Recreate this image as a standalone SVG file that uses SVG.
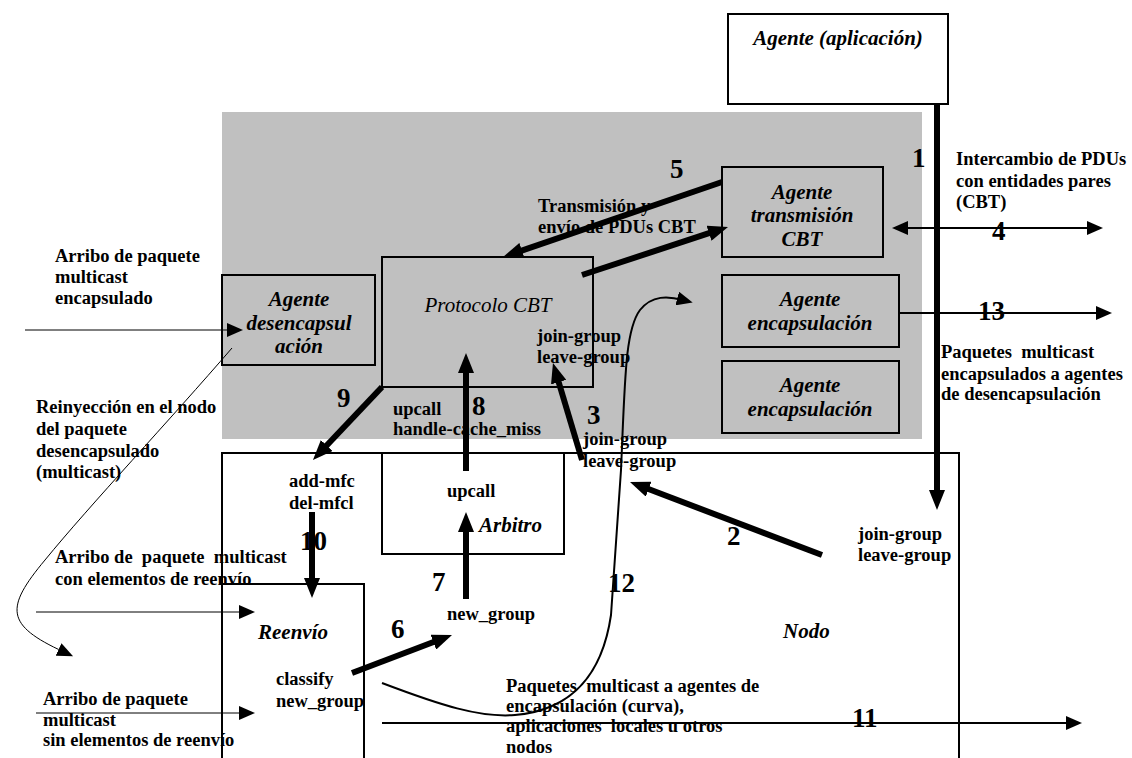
<svg xmlns="http://www.w3.org/2000/svg" width="1132" height="758" viewBox="0 0 1132 758">
<defs>
<style>
text{font-family:"Liberation Serif","Times New Roman",serif;fill:#000}
.t{font-size:18.5px;font-weight:bold}
.n{font-size:27px;font-weight:bold}
.lab{font-size:21px;font-weight:bold;font-style:italic}
.lbl{font-size:21px;font-style:italic}
.box{fill:none;stroke:#000;stroke-width:2}
.thick{stroke:#000;stroke-width:6;fill:none}
.med{stroke:#000;stroke-width:2;fill:none}
.thin{stroke:#000;stroke-width:1;fill:none}
</style>
<marker id="ah" viewBox="0 0 20 16" markerUnits="userSpaceOnUse" markerWidth="20" markerHeight="16" refX="8" refY="8" orient="auto"><path d="M0,0L20,8L0,16z" fill="#000"/></marker>
<marker id="am" viewBox="0 0 16 14" markerUnits="userSpaceOnUse" markerWidth="16" markerHeight="14" refX="6" refY="7" orient="auto-start-reverse"><path d="M0,0L16,7L0,14z" fill="#000"/></marker>
</defs>
<rect width="1132" height="758" fill="#fff"/>
<rect id="zona-cbt" x="222" y="112" width="700" height="327" fill="#c0c0c0"/>

<g id="agente-aplicacion">
<rect x="728" y="14" width="220" height="90" fill="#fff" stroke="#000" stroke-width="2"/>
<text class="lab" x="838" y="45" text-anchor="middle">Agente (aplicación)</text>
</g>
<g id="agente-transmision">
<rect class="box" x="722" y="167" width="161" height="90"/>
<text class="lab" x="802" y="199" text-anchor="middle">Agente</text>
<text class="lab" x="802" y="222" text-anchor="middle">transmisión</text>
<text class="lab" x="802" y="246" text-anchor="middle">CBT</text>
</g>
<g id="agente-encapsulacion-1">
<rect class="box" x="722" y="275" width="177" height="72"/>
<text class="lab" x="810" y="306" text-anchor="middle">Agente</text>
<text class="lab" x="810" y="330" text-anchor="middle">encapsulación</text>
</g>
<g id="agente-encapsulacion-2">
<rect class="box" x="722" y="361" width="177" height="72"/>
<text class="lab" x="810" y="392" text-anchor="middle">Agente</text>
<text class="lab" x="810" y="416" text-anchor="middle">encapsulación</text>
</g>
<g id="agente-desencapsulacion">
<rect class="box" x="222" y="275" width="153" height="90"/>
<text class="lab" x="299" y="306" text-anchor="middle">Agente</text>
<text class="lab" x="299" y="330" text-anchor="middle">desencapsul</text>
<text class="lab" x="299" y="353" text-anchor="middle">ación</text>
</g>
<g id="protocolo-cbt">
<rect class="box" x="382" y="257" width="211" height="130"/>
<text class="lbl" x="488" y="312" text-anchor="middle">Protocolo CBT</text>
<text class="t" x="537" y="342">join-group</text>
<text class="t" x="537" y="363">leave-group</text>
</g>
<g id="nodo">
<rect class="box" x="222" y="453" width="737" height="320"/>
<text class="lab" x="783" y="638">Nodo</text>
<text class="t" x="289" y="487">add-mfc</text>
<text class="t" x="289" y="509">del-mfcl</text>
<text class="t" x="858" y="540">join-group</text>
<text class="t" x="858" y="561">leave-group</text>
<text class="t" x="447" y="620">new_group</text>
</g>
<g id="arbitro">
<rect class="box" x="382" y="453" width="182" height="101"/>
<text class="t" x="447" y="497">upcall</text>
<text class="lab" x="479" y="532">Arbitro</text>
</g>
<g id="reenvio">
<rect class="box" x="222" y="584" width="142" height="190"/>
<text class="lab" x="258" y="639">Reenvío</text>
<text class="t" x="276" y="685">classify</text>
<text class="t" x="276" y="707">new_group</text>
</g>

<g id="conectores">
<line class="thick" x1="937" y1="104" x2="937" y2="498" stroke-width="5" marker-end="url(#ah)"/>
<line class="thick" x1="822" y1="555" x2="641.2" y2="486.3" marker-end="url(#ah)"/>
<line class="thick" x1="582" y1="460" x2="556.4" y2="374.5" marker-end="url(#ah)"/>
<line class="med" x1="902" y1="228" x2="1093" y2="228" marker-start="url(#am)" marker-end="url(#am)"/>
<line class="thick" x1="722" y1="182" x2="514.4" y2="253.1" marker-end="url(#ah)"/>
<line class="thick" x1="582" y1="275" x2="716.6" y2="230.7" marker-end="url(#ah)"/>
<line class="thick" x1="352" y1="673" x2="440.8" y2="639.3" marker-end="url(#ah)"/>
<line class="thick" x1="466" y1="599" x2="466" y2="524" marker-end="url(#ah)"/>
<line class="thick" x1="466" y1="471" x2="466" y2="365" marker-end="url(#ah)"/>
<line class="thick" x1="382" y1="387" x2="321.2" y2="451.3" marker-end="url(#ah)"/>
<line class="thick" x1="312" y1="512" x2="312" y2="586" marker-end="url(#ah)"/>
<line class="med" x1="382" y1="723" x2="1072" y2="723" marker-end="url(#am)"/>
<path class="med" d="M382,683 C440,705 480,718 515,715 C575,710 603,670 611,615 L621,470 C625,380 625,330 640,310 C652,295 668,296 683,300" stroke-width="1.5" marker-end="url(#am)"/>
<line class="med" x1="899" y1="313" x2="1102" y2="313" marker-end="url(#am)"/>
<line class="thin" x1="25" y1="330" x2="233" y2="330" marker-end="url(#am)"/>
<line class="thin" x1="36" y1="612" x2="245" y2="612" marker-end="url(#am)"/>
<line class="thin" x1="36" y1="713" x2="245" y2="713" marker-end="url(#am)"/>
<path class="thin" d="M232,348 C170,420 90,505 45,560 C5,608 5,625 64,652" marker-end="url(#am)"/>
</g>

<g id="etiquetas">
<text class="n" x="912" y="167">1</text>
<text class="n" x="727" y="545">2</text>
<text class="n" x="587" y="424">3</text>
<text class="n" x="992" y="240">4</text>
<text class="n" x="670" y="178">5</text>
<text class="n" x="391" y="638">6</text>
<text class="n" x="432" y="591">7</text>
<text class="n" x="472" y="415">8</text>
<text class="n" x="337" y="407">9</text>
<text class="n" x="300" y="550">10</text>
<text class="n" x="852" y="727">11</text>
<text class="n" x="608" y="592">12</text>
<text class="n" x="978" y="320">13</text>

<text class="t" x="956" y="165">Intercambio de PDUs</text>
<text class="t" x="956" y="187">con entidades pares</text>
<text class="t" x="956" y="208">(CBT)</text>
<text class="t" x="941" y="358" xml:space="preserve">Paquetes  multicast</text>
<text class="t" x="941" y="380">encapsulados a agentes</text>
<text class="t" x="941" y="400">de desencapsulación</text>
<text class="t" x="538" y="212">Transmisión y</text>
<text class="t" x="538" y="233">envío de PDUs CBT</text>
<text class="t" x="393" y="415">upcall</text>
<text class="t" x="393" y="435">handle-cache_miss</text>
<text class="t" x="583" y="445">join-group</text>
<text class="t" x="583" y="467">leave-group</text>
<text class="t" x="55" y="262">Arribo de paquete</text>
<text class="t" x="55" y="283">multicast</text>
<text class="t" x="55" y="304">encapsulado</text>
<text class="t" x="36" y="413">Reinyección en el nodo</text>
<text class="t" x="36" y="435">del paquete</text>
<text class="t" x="36" y="457">desencapsulado</text>
<text class="t" x="36" y="478">(multicast)</text>
<text class="t" x="55" y="563" xml:space="preserve">Arribo de  paquete  multicast</text>
<text class="t" x="55" y="585">con elementos de reenvío</text>
<text class="t" x="43" y="705">Arribo de paquete</text>
<text class="t" x="43" y="726">multicast</text>
<text class="t" x="43" y="746">sin elementos de reenvío</text>
<text class="t" x="506" y="692" xml:space="preserve">Paquetes  multicast a agentes de</text>
<text class="t" x="506" y="712">encapsulación (curva),</text>
<text class="t" x="506" y="732" xml:space="preserve">aplicaciones  locales u otros</text>
<text class="t" x="506" y="753">nodos</text>
</g>
</svg>
